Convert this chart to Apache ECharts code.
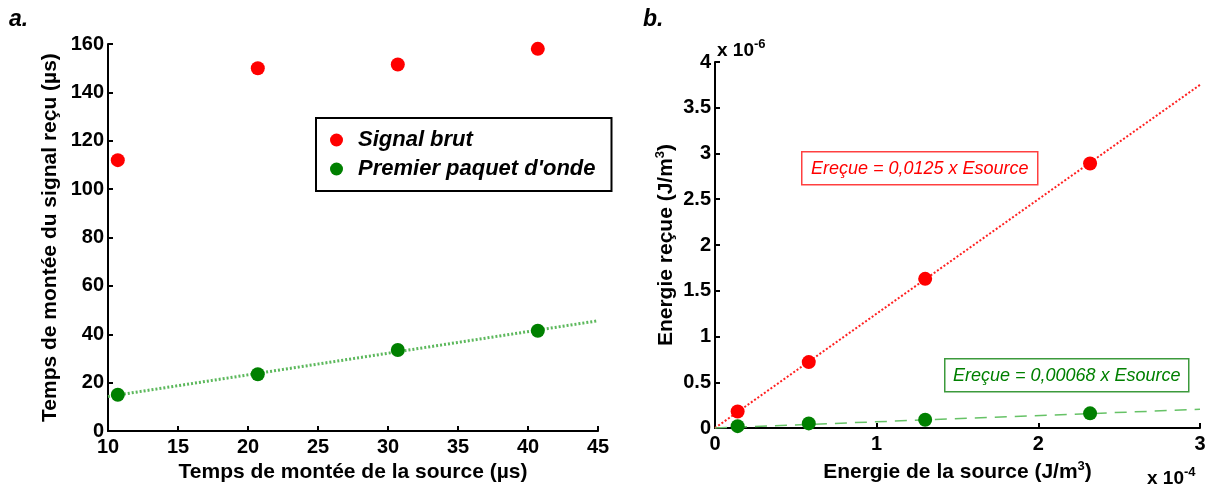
<!DOCTYPE html>
<html>
<head>
<meta charset="utf-8">
<script src="https://cdn.jsdelivr.net/npm/echarts@6/dist/echarts.min.js"></script>
<style>
html,body{margin:0;padding:0;background:#fff;}
#chart{width:1210px;height:488px;}
</style>
</head>
<body>
<div id="chart"></div>
<script>
// ---- Panel a data ----
const leftSourceRise = [10.7, 20.7, 30.7, 40.7];
const leftSignalBrut = [112, 150, 151.5, 158];
const leftPremierPaquet = [15, 23.5, 33.5, 41.5];
const leftFitX = [10, 45];
const leftFitY = [14.3, 45.6];

// ---- Panel b data ----
const rightSourceE = [0.14e-4, 0.58e-4, 1.30e-4, 2.32e-4];
const rightRecueBrut = [0.18e-6, 0.72e-6, 1.63e-6, 2.89e-6];
const rightRecuePaquet = [0.02e-6, 0.05e-6, 0.09e-6, 0.16e-6];
const rightFitX = [0, 3e-4];
const rightFitRed = [0, 3.75e-6];
const rightFitGreen = [0, 0.204e-6];

const seriesNames = ['Signal brut', 'Premier paquet d\'onde'];
const eqRed = 'Ereçue = 0,0125 x Esource';
const eqGreen = 'Ereçue = 0,00068 x Esource';

const FONT = '"Liberation Sans", Arial, sans-serif';
const RED = '#ff0000';
const GREEN = '#008000';

const zip = (a, b) => a.map((v, i) => [v, b[i]]);

const tickFont = {color: '#000', fontFamily: FONT, fontWeight: 'bold', fontSize: 20};
const titleFont = {color: '#000', fontFamily: FONT, fontWeight: 'bold', fontSize: 21};
const axisLine = {show: true, lineStyle: {color: '#000', width: 2}};
const axisTick = {show: true, inside: true, length: 5, lineStyle: {color: '#000', width: 2}};
const supRich = {
  n: {color: '#000', fontFamily: FONT, fontWeight: 'bold', fontSize: 21},
  s: {color: '#000', fontFamily: FONT, fontWeight: 'bold', fontSize: 13, verticalAlign: 'top', padding: [0, 0, 12, 0]}
};

const chart = echarts.init(document.getElementById('chart'), null, {renderer: 'canvas'});

const option = {
  backgroundColor: '#fff',
  animation: false,
  grid: [
    {left: 108, top: 44, width: 490, height: 388},
    {left: 715, top: 62, width: 485, height: 369}
  ],
  xAxis: [
    {
      gridIndex: 0, type: 'value', min: 10, max: 45, interval: 5,
      axisLine: axisLine, axisTick: axisTick, splitLine: {show: false},
      axisLabel: Object.assign({margin: 6}, tickFont),
      name: 'Temps de montée de la source (µs)', nameLocation: 'middle', nameGap: 27,
      nameTextStyle: titleFont
    },
    {
      gridIndex: 1, type: 'value', min: 0, max: 3e-4, interval: 1e-4,
      axisLine: axisLine, axisTick: axisTick, splitLine: {show: false},
      axisLabel: Object.assign({margin: 6, formatter: v => String(Math.round(v / 1e-4))}, tickFont),
      name: '{n|Energie de la source (J/m}{s|3}{n|)}', nameLocation: 'middle', nameGap: 32,
      nameTextStyle: Object.assign({rich: supRich}, titleFont)
    }
  ],
  yAxis: [
    {
      gridIndex: 0, type: 'value', min: 0, max: 160, interval: 20,
      axisLine: axisLine, axisTick: axisTick, splitLine: {show: false},
      axisLabel: Object.assign({margin: 4}, tickFont),
      name: 'Temps de montée du signal reçu (µs)', nameLocation: 'middle', nameGap: 47,
      nameTextStyle: titleFont
    },
    {
      gridIndex: 1, type: 'value', min: 0, max: 4e-6, interval: 0.5e-6,
      axisLine: axisLine, axisTick: axisTick, splitLine: {show: false},
      axisLabel: Object.assign({margin: 4, formatter: v => String(Math.round(v / 1e-7) / 10)}, tickFont),
      name: '{n|Energie reçue (J/m}{s|3}{n|)}', nameLocation: 'middle', nameGap: 36,
      nameTextStyle: Object.assign({rich: supRich}, titleFont)
    }
  ],
  legend: {
    left: 316, top: 118, orient: 'vertical',
    data: seriesNames,
    borderColor: '#000', borderWidth: 2,
    padding: [11, 16, 11, 14], itemGap: 7,
    itemWidth: 13, itemHeight: 13,
    itemStyle: {opacity: 1},
    textStyle: {color: '#000', fontFamily: FONT, fontWeight: 'bold', fontStyle: 'italic', fontSize: 22, lineHeight: 22, padding: [0, 0, 0, 10]}
  },
  series: [
    {
      name: 'fitA', type: 'line', xAxisIndex: 0, yAxisIndex: 0,
      data: zip(leftFitX, leftFitY), symbol: 'none', z: 1,
      lineStyle: {color: '#5cb85c', width: 3, type: [2, 2]}
    },
    {
      name: seriesNames[0], type: 'scatter', xAxisIndex: 0, yAxisIndex: 0,
      data: zip(leftSourceRise, leftSignalBrut), symbol: 'circle', symbolSize: 14, z: 3,
      itemStyle: {color: RED, opacity: 1}
    },
    {
      name: seriesNames[1], type: 'scatter', xAxisIndex: 0, yAxisIndex: 0,
      data: zip(leftSourceRise, leftPremierPaquet), symbol: 'circle', symbolSize: 14, z: 3,
      itemStyle: {color: GREEN, opacity: 1}
    },
    {
      name: 'fitBred', type: 'line', xAxisIndex: 1, yAxisIndex: 1,
      data: zip(rightFitX, rightFitRed), symbol: 'none', z: 1,
      lineStyle: {color: '#ff2020', width: 2, type: [2, 2]}
    },
    {
      name: 'fitBgreen', type: 'line', xAxisIndex: 1, yAxisIndex: 1,
      data: zip(rightFitX, rightFitGreen), symbol: 'none', z: 1,
      lineStyle: {color: '#66c266', width: 1.5, type: [12, 8]}
    },
    {
      name: 'bRed', type: 'scatter', xAxisIndex: 1, yAxisIndex: 1,
      data: zip(rightSourceE, rightRecueBrut), symbol: 'circle', symbolSize: 14, z: 3,
      itemStyle: {color: RED, opacity: 1}
    },
    {
      name: 'bGreen', type: 'scatter', xAxisIndex: 1, yAxisIndex: 1,
      data: zip(rightSourceE, rightRecuePaquet), symbol: 'circle', symbolSize: 14, z: 3,
      itemStyle: {color: GREEN, opacity: 1}
    }
  ],
  graphic: [
    {type: 'text', left: 9, top: 8, style: {text: 'a.', fill: '#000', font: 'italic bold 23px ' + FONT}},
    {type: 'text', left: 643, top: 8, style: {text: 'b.', fill: '#000', font: 'italic bold 23px ' + FONT}},
    {
      type: 'text', left: 717, top: 38,
      style: {
        text: '{n|x 10}{s|-6}', fill: '#000',
        rich: {
          n: {fontFamily: FONT, fontWeight: 'bold', fontSize: 19, fill: '#000'},
          s: {fontFamily: FONT, fontWeight: 'bold', fontSize: 13, fill: '#000', verticalAlign: 'top', padding: [0, 0, 12, 0]}
        }
      }
    },
    {
      type: 'text', left: 1147, top: 466,
      style: {
        text: '{n|x 10}{s|-4}', fill: '#000',
        rich: {
          n: {fontFamily: FONT, fontWeight: 'bold', fontSize: 19, fill: '#000'},
          s: {fontFamily: FONT, fontWeight: 'bold', fontSize: 13, fill: '#000', verticalAlign: 'top', padding: [0, 0, 12, 0]}
        }
      }
    },
    {
      type: 'group', left: 801, top: 151,
      children: [
        {type: 'rect', shape: {x: 0, y: 0, width: 236, height: 33}, style: {fill: '#fff', stroke: '#ff4040', lineWidth: 1.5}},
        {type: 'text', x: 118, y: 17, style: {text: eqRed, fill: RED, font: 'italic 18px ' + FONT, align: 'center', verticalAlign: 'middle'}}
      ]
    },
    {
      type: 'group', left: 944, top: 358,
      children: [
        {type: 'rect', shape: {x: 0, y: 0, width: 244, height: 33}, style: {fill: '#fff', stroke: '#3c9a3c', lineWidth: 1.5}},
        {type: 'text', x: 122, y: 17, style: {text: eqGreen, fill: GREEN, font: 'italic 18px ' + FONT, align: 'center', verticalAlign: 'middle'}}
      ]
    }
  ]
};
chart.setOption(option);
</script>
</body>
</html>
